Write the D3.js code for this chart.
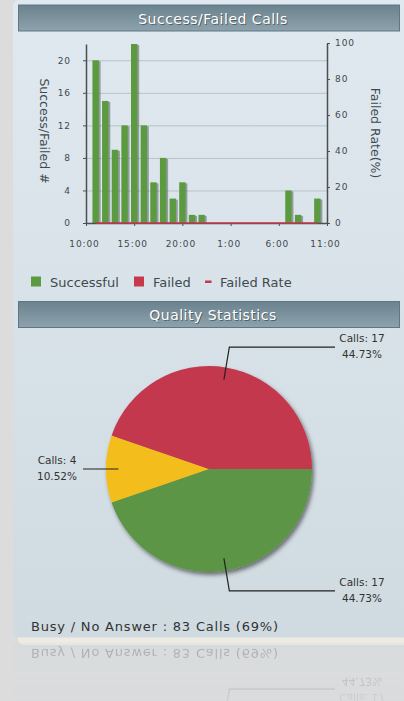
<!DOCTYPE html>
<html>
<head>
<meta charset="utf-8">
<script src="https://cdn.jsdelivr.net/npm/d3@7"></script>
<style>
body { margin: 0; background: #dcdcdc; }
svg { display: block; font-family: "DejaVu Sans", Verdana, sans-serif; }
</style>
</head>
<body>
<div id="chart"></div>
<script>
var w = 404;
var h = 701;

// bar chart: one bar per hour
var hours = ["11:00", "12:00", "13:00", "14:00", "15:00", "16:00", "17:00", "18:00", "19:00", "20:00", "21:00", "22:00",
             "23:00", "0:00", "1:00", "2:00", "3:00", "4:00", "5:00", "6:00", "7:00", "8:00", "9:00", "10:00"];
var successful = [20, 15, 9, 12, 22, 12, 5, 8, 3, 5, 1, 1, 0, 0, 0, 0, 0, 0, 0, 0, 4, 1, 0, 3];
var failed = [0, 0, 0, 0, 0, 0, 0, 0, 0, 0, 0, 0, 0, 0, 0, 0, 0, 0, 0, 0, 0, 0, 0, 0];
var failedRate = [0, 0, 0, 0, 0, 0, 0, 0, 0, 0, 0, 0, 0, 0, 0, 0, 0, 0, 0, 0, 0, 0, 0, 0];
var xTickLabels = ["10:00", "15:00", "20:00", "1:00", "6:00", "11:00"];
var leftTicks = [0, 4, 8, 12, 16, 20];
var rightTicks = [0, 20, 40, 60, 80, 100];
var legendNames = ["Successful", "Failed", "Failed Rate"];

// pie: calls per quality slice
var pieCalls = [17, 4, 17];
var pieColors = ["#5c9544", "#f3bd1c", "#c3384e"];
var busyText = "Busy / No Answer : 83 Calls (69%)";

var green = "#5c9a40";
var red = "#c8384c";

var svg = d3.select("#chart")
            .append("svg")
            .attr("width", w)
            .attr("height", h);

var defs = svg.append("defs");
var panelGrad = defs.append("linearGradient").attr("id", "panelGrad")
    .attr("x1", 0).attr("y1", 0).attr("x2", 0).attr("y2", 1);
panelGrad.append("stop").attr("offset", "0%").attr("stop-color", "#dfe9ef");
panelGrad.append("stop").attr("offset", "100%").attr("stop-color", "#d0dbe1");
var headGrad = defs.append("linearGradient").attr("id", "headGrad")
    .attr("x1", 0).attr("y1", 0).attr("x2", 0).attr("y2", 1);
headGrad.append("stop").attr("offset", "0%").attr("stop-color", "#6b838f");
headGrad.append("stop").attr("offset", "100%").attr("stop-color", "#8da2ac");
var fadeGrad = defs.append("linearGradient").attr("id", "fadeGrad")
    .attr("gradientUnits", "userSpaceOnUse")
    .attr("x1", 0).attr("y1", 640).attr("x2", 0).attr("y2", 701);
fadeGrad.append("stop").attr("offset", "0%").attr("stop-color", "#fff").attr("stop-opacity", 0.3);
fadeGrad.append("stop").attr("offset", "100%").attr("stop-color", "#fff").attr("stop-opacity", 0.08);
defs.append("mask").attr("id", "fade")
    .attr("maskUnits", "userSpaceOnUse")
    .attr("x", 0).attr("y", 640).attr("width", w).attr("height", 80)
    .append("rect")
    .attr("x", 0).attr("y", 640).attr("width", w).attr("height", 80)
    .attr("fill", "url(#fadeGrad)");
defs.append("filter").attr("id", "pieShadow")
    .attr("x", "-20%").attr("y", "-20%").attr("width", "140%").attr("height", "140%")
    .append("feDropShadow")
    .attr("dx", 2).attr("dy", 3).attr("stdDeviation", 2)
    .attr("flood-color", "#000").attr("flood-opacity", 0.5);
defs.append("filter").attr("id", "soft")
    .append("feGaussianBlur").attr("stdDeviation", 0.7);

// cream strip under the panel
svg.append("rect")
    .attr("x", 18).attr("y", 620).attr("width", 400).attr("height", 25)
    .attr("rx", 6).attr("fill", "#eeece2");

var panel = svg.append("g").attr("id", "panel");
panel.append("rect")
    .attr("x", 13).attr("y", 0).attr("width", 400).attr("height", 637.5)
    .attr("rx", 6).attr("fill", "url(#panelGrad)");

function header(y, title) {
    panel.append("rect")
        .attr("x", 18.5).attr("y", y).attr("width", 381).attr("height", 26)
        .attr("fill", "url(#headGrad)")
        .attr("stroke", "#5f7783");
    panel.append("text")
        .attr("x", 214).attr("y", y + 19.5)
        .attr("text-anchor", "middle")
        .attr("font-size", 14).attr("letter-spacing", 0.5)
        .attr("fill", "#2e3f48").attr("opacity", 0.6)
        .text(title);
    panel.append("text")
        .attr("x", 213).attr("y", y + 18.5)
        .attr("text-anchor", "middle")
        .attr("font-size", 14).attr("letter-spacing", 0.5)
        .attr("fill", "#ffffff")
        .text(title);
}
header(5, "Success/Failed Calls");
header(301.5, "Quality Statistics");

// BAR CHART
var parseHour = d3.timeParse("%H:%M");
var formatHour = d3.timeFormat("%-H:%M");
function toDates(list, start) {
    var day = 0, prev = start;
    return list.map(function(s) {
        var d = d3.timeDay.offset(parseHour(s), day);
        if (d < prev) { day++; d = d3.timeDay.offset(d, 1); }
        prev = d;
        return d;
    });
}
var tickDates = toDates(xTickLabels, parseHour("0:00"));
var hourDates = toDates(hours, tickDates[0]);

var xScale = d3.scaleTime()
    .domain([tickDates[0], tickDates[tickDates.length - 1]])
    .range([86, 327]);
var yLeft = d3.scaleLinear().domain([0, 22]).range([223, 44]);
var yRight = d3.scaleLinear().domain([0, 100]).range([223, 43]);
var barW = 6.4;

var plot = panel.append("g");

// gridlines
plot.append("g")
    .attr("transform", "translate(86, 0)")
    .call(d3.axisRight(yLeft).tickValues(leftTicks.slice(1)).tickSize(241).tickFormat(""))
    .call(function(g) {
        g.select(".domain").remove();
        g.selectAll("line").attr("stroke", "#b7c3ca");
    });

// bar shadows
plot.selectAll(".shadow")
    .data(successful)
    .enter()
    .append("rect")
    .attr("class", "shadow")
    .attr("x", (d, i) => xScale(hourDates[i]) - barW / 2 + 1.8)
    .attr("y", (d, i) => yLeft(d + failed[i]) + 1)
    .attr("width", barW)
    .attr("height", (d, i) => yLeft(0) - yLeft(d + failed[i]) - 1)
    .attr("fill", "#3c4448")
    .attr("opacity", 0.45)
    .attr("filter", "url(#soft)");

plot.selectAll(".bar")
    .data(successful)
    .enter()
    .append("rect")
    .attr("class", "bar")
    .attr("x", (d, i) => xScale(hourDates[i]) - barW / 2)
    .attr("y", (d) => yLeft(d))
    .attr("width", barW)
    .attr("height", (d) => yLeft(0) - yLeft(d))
    .attr("fill", green);

plot.selectAll(".failed")
    .data(failed)
    .enter()
    .append("rect")
    .attr("class", "failed")
    .attr("x", (d, i) => xScale(hourDates[i]) - barW / 2)
    .attr("y", (d, i) => yLeft(d + successful[i]))
    .attr("width", barW)
    .attr("height", (d) => yLeft(0) - yLeft(d))
    .attr("fill", red);

// axes
function styleAxis(g) {
    g.select(".domain").attr("stroke", "#4a4f52").attr("stroke-width", 1.5);
    g.selectAll(".tick line").attr("stroke", "#4a4f52");
    g.selectAll("text").attr("fill", "#3f4a50").attr("font-size", 9)
        .attr("font-family", "DejaVu Sans").attr("letter-spacing", 0.9);
}
plot.append("g")
    .attr("transform", "translate(86, 0)")
    .call(d3.axisLeft(yLeft).tickValues(leftTicks).tickSize(3).tickSizeOuter(0).tickPadding(12))
    .call(styleAxis);
plot.append("g")
    .attr("transform", "translate(327, 0)")
    .call(d3.axisRight(yRight).tickValues(rightTicks).tickSize(3).tickSizeOuter(0).tickPadding(5))
    .call(styleAxis);
plot.append("g")
    .attr("transform", "translate(0, 223)")
    .call(d3.axisBottom(xScale).tickValues(tickDates).tickFormat(formatHour)
        .tickSize(3).tickSizeOuter(0).tickPadding(14.5))
    .call(styleAxis)
    .call((g) => g.selectAll("text").attr("dx", -2));

// failed rate line
var rateLine = d3.line()
    .x((d, i) => xScale(hourDates[i]))
    .y((d) => yRight(d));
plot.append("path")
    .datum(failedRate)
    .attr("d", rateLine)
    .attr("fill", "none")
    .attr("stroke", red)
    .attr("stroke-width", 1.5);

// axis titles
plot.append("text")
    .attr("transform", "translate(40, 131) rotate(90)")
    .attr("text-anchor", "middle")
    .attr("font-size", 12.5)
    .attr("fill", "#3f4a50")
    .text("Success/Failed #");
plot.append("text")
    .attr("transform", "translate(371, 133) rotate(90)")
    .attr("text-anchor", "middle")
    .attr("font-size", 12.5)
    .attr("fill", "#3f4a50")
    .text("Failed Rate(%)");

// legend
var legendX = [31, 134, 205];
var legend = panel.append("g");
legendNames.forEach(function(name, i) {
    if (i < 2) {
        legend.append("rect")
            .attr("x", legendX[i]).attr("y", 276.5)
            .attr("width", 10).attr("height", 10)
            .attr("fill", i == 0 ? green : red);
    } else {
        legend.append("rect")
            .attr("x", legendX[i]).attr("y", 280.5)
            .attr("width", 6.5).attr("height", 2.5)
            .attr("fill", red);
    }
    legend.append("text")
        .attr("x", legendX[i] + (i < 2 ? 19 : 15)).attr("y", 286.5)
        .attr("font-size", 13)
        .attr("fill", "#3f4a50")
        .text(name);
});

// PIE
var cx = 209, cy = 469, r = 103;
var total = d3.sum(pieCalls);
var pie = d3.pie().sort(null).startAngle(Math.PI / 2).endAngle(Math.PI * 2.5);
var arc = d3.arc().innerRadius(0).outerRadius(r);
var slices = pie(pieCalls);

var pieG = panel.append("g").attr("transform", "translate(" + cx + "," + cy + ")");
pieG.append("g")
    .attr("filter", "url(#pieShadow)")
    .selectAll("path")
    .data(slices)
    .enter()
    .append("path")
    .attr("d", arc)
    .attr("fill", (d, i) => pieColors[i]);

slices.forEach(function(s) {
    var a = (s.startAngle + s.endAngle) / 2;
    var px = (k) => k * r * Math.sin(a);
    var py = (k) => -k * r * Math.cos(a);
    var right = Math.sin(a) > 0;
    var endX = right ? 126 : -126;
    pieG.append("path")
        .attr("d", "M" + px(0.88) + "," + py(0.88) + "L" + px(1.2) + "," + py(1.2) + "L" + endX + "," + py(1.2))
        .attr("fill", "none")
        .attr("stroke", "#222")
        .attr("stroke-width", 1.2);
    var pct = Math.floor(s.value / total * 10000) / 100;
    var tx = right ? 153 : -152;
    var t = pieG.append("text")
        .attr("text-anchor", "middle")
        .attr("font-size", 10.5)
        .attr("fill", "#333");
    t.append("tspan").attr("x", tx).attr("y", py(1.2) - 5).text("Calls: " + s.value);
    t.append("tspan").attr("x", tx).attr("y", py(1.2) + 11).text(pct.toFixed(2) + "%");
});

panel.append("text")
    .attr("x", 31).attr("y", 631)
    .attr("font-size", 13)
    .attr("letter-spacing", 0.8)
    .attr("fill", "#333")
    .text(busyText);

// reflection under the panel
svg.append("g")
    .attr("mask", "url(#fade)")
    .append("use")
    .attr("href", "#panel")
    .attr("transform", "translate(0, 1280) scale(1, -1)");
</script>
</body>
</html>
